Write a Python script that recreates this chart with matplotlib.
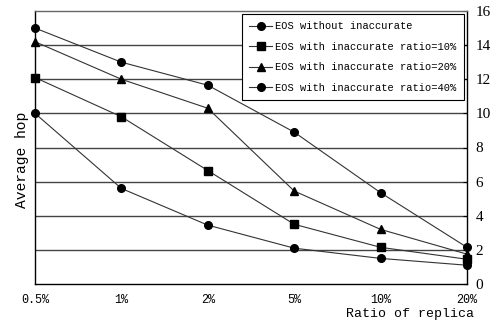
import matplotlib
matplotlib.use("Agg")
import matplotlib.pyplot as plt

categories = ["0.5%", "1%", "2%", "5%", "10%", "20%"]
series_names = ["EOS without inaccurate", "EOS with inaccurate ratio=10%",
                "EOS with inaccurate ratio=20%", "EOS with inaccurate ratio=40%"]
without_inaccurate = [10.0, 5.6, 3.45, 2.1, 1.5, 1.1]
ratio_10 = [12.1, 9.8, 6.65, 3.5, 2.15, 1.45]
ratio_20 = [14.2, 12.0, 10.3, 5.45, 3.2, 1.75]
ratio_40 = [15.0, 13.0, 11.65, 8.9, 5.35, 2.15]
y_ticks = [0, 2, 4, 6, 8, 10, 12, 14, 16]

mono = "Liberation Mono"
fig = plt.figure(figsize=(4.96, 3.24), dpi=100)
ax = fig.add_axes([35/496, 40/324, 432/496, 273/324])

x = list(range(len(categories)))
markers = ["o", "s", "^", "o"]
for vals, mk, name in zip([without_inaccurate, ratio_10, ratio_20, ratio_40], markers, series_names):
    ax.plot(x, vals, color="#333333", lw=0.8, marker=mk, markersize=5.5,
            markerfacecolor="black", markeredgecolor="black", label=name, clip_on=False, zorder=3)

for v in y_ticks[1:-1]:
    ax.axhline(v, color="#444444", lw=1.0, zorder=1)

ax.set_xlim(0, 5)
ax.set_ylim(0, 16)
ax.set_xticks(x)
ax.set_xticklabels(categories, fontsize=8.5, family=mono)
ax.yaxis.tick_right()
ax.set_yticks(y_ticks)
ax.set_yticklabels([str(v) for v in y_ticks], fontsize=11, family="Liberation Serif")
ax.tick_params(axis="x", length=0, pad=7)
ax.tick_params(axis="y", length=3, direction="in", pad=6)
for s in ax.spines.values():
    s.set_color("black")
    s.set_linewidth(1.0)
ax.spines["top"].set_color("#666666")

fig.text(22/496, 1 - 160/324, "Average hop", rotation=90, ha="center", va="center",
         fontsize=10.5, family=mono)
fig.text(410/496, 1 - 314/324, "Ratio of replica", ha="center", va="center",
         fontsize=9.5, family=mono)

leg = ax.legend(loc="upper right", bbox_to_anchor=(1.0, 1.0),
                prop={"family": mono, "size": 7.5}, frameon=True, fancybox=False,
                edgecolor="black", framealpha=1, handlelength=2.2, handletextpad=0.3,
                borderpad=0.7, labelspacing=1.0, borderaxespad=0.3)
leg.get_frame().set_linewidth(0.8)

fig.savefig("out.png", dpi=100)
